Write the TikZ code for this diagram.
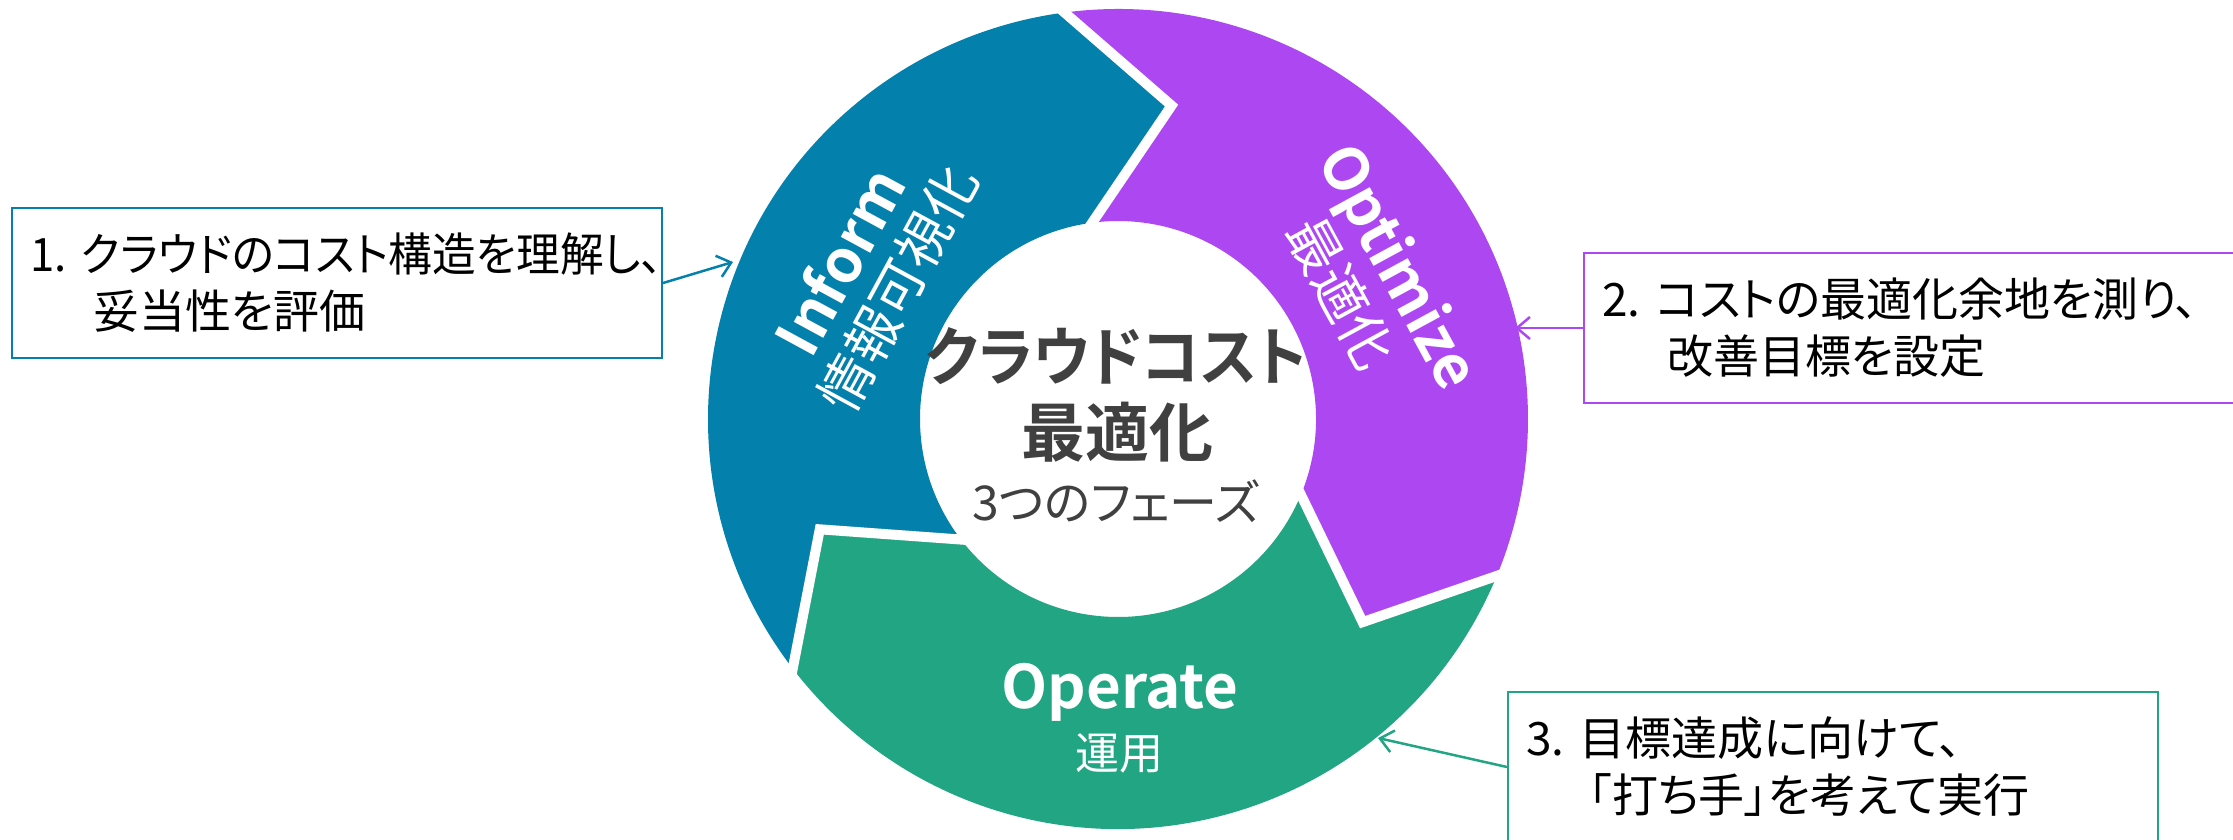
\documentclass[tikz,border=0pt]{standalone}
\usepackage{fontspec}
\newfontfamily\jp[RawFeature=+palt, BoldFont={Noto Sans CJK JP Bold}]{Noto Sans CJK JP}
\newfontfamily\jpb[RawFeature=+palt]{Noto Sans CJK JP Bold}
\usetikzlibrary{arrows.meta,calc}
\definecolor{cblue}{HTML}{0380AB}
\definecolor{cpurple}{HTML}{AD47F1}
\definecolor{cgreen}{HTML}{22A582}
\definecolor{ctext}{HTML}{404040}
\def\Ro{410}\def\Ri{198}\def\Rm{318}\def\Dt{17.2}
\newcommand\ringseg[3]{%
  \fill[#3] ($(C)+(#1:\Ro)$) arc[start angle=#1, end angle=#2, radius=\Ro]
    -- ($(C)+(#2-\Dt:\Rm)$) -- ($(C)+(#2:\Ri)$)
    arc[start angle=#2, end angle=#1, radius=\Ri]
    -- ($(C)+(#1-\Dt:\Rm)$) -- cycle;}
\newcommand\ringgap[1]{%
  \coordinate (gT) at ($(C)+(#1-\Dt:\Rm)$);
  \coordinate (gO) at ($(C)+(#1:\Ro)$);
  \coordinate (gI) at ($(C)+(#1:\Ri)$);
  \draw[white, line width=10pt, line join=miter]
    ($(gT)!1.15!(gO)$) -- (gT) -- ($(gT)!1.15!(gI)$);}
\begin{document}
\begin{tikzpicture}[x=1pt,y=1pt,
  box/.style={draw, line width=2pt, minimum width=650pt, minimum height=150pt,
    inner xsep=18pt, inner ysep=0pt, text width=614pt, align=left,
    font=\jp\fontsize{46pt}{57pt}\selectfont, text=black},
  conn/.style={line width=2.5pt, -{Straight Barb[length=13pt, width=22pt, line width=2.5pt]}},
  seglbl/.style={inner sep=0pt, anchor=base, text=white,
    font=\jpb\fontsize{60pt}{64pt}\selectfont},
  segsub/.style={inner sep=0pt, anchor=base, text=white,
    font=\jp\fontsize{54pt}{60pt}\selectfont},
  ctr/.style={inner sep=0pt, anchor=base, text=ctext}]
\useasboundingbox (0,0) rectangle (2233,-839);
\clip (0,0) rectangle (2233,-839);
\coordinate (C) at (1118,-419);
% ring
\ringseg{217.5}{97.5}{cblue}
\ringseg{97.5}{-22.5}{cpurple}
\ringseg{-22.5}{-142.5}{cgreen}
\ringgap{97.5}
\ringgap{-22.5}
\ringgap{-142.5}
% segment labels
\node[seglbl, rotate=61.5] (inform) at ($(C)+(150.3:297)$) {Inform};
\node[segsub, rotate=61.5] (informj) at ($(C)+(149:236)$) {情報可視化};
\node[seglbl, rotate=-61.5] (optimize) at ($(C)+(28.5:298)$) {Optimize};
\node[segsub, rotate=-61.5] (optimizej) at ($(C)+(29.5:236)$) {最適化};
\node[seglbl] (operate) at (1120,-708) {Operate};
\node[segsub, font=\jp\fontsize{44pt}{50pt}\selectfont] (operatej) at (1119,-769) {運用};
% centre
\node[ctr, font=\jpb\fontsize{64pt}{70pt}\selectfont] (t1) at (1116,-380) {\scalebox{0.93}[1]{クラウドコスト}};
\node[ctr, font=\jpb\fontsize{64pt}{70pt}\selectfont] (t2) at (1117,-456) {最適化};
\node[ctr, font=\jp\fontsize{48pt}{54pt}\selectfont] (t3) at (1116,-520) {3つのフェーズ};
% boxes
\node[box, draw=cblue] (box1) at (337,-283) {\scalebox{0.95}[1]{1.~クラウドのコスト構造を理解し、}\\\hspace*{63pt}妥当性を評価};
\node[box, draw=cpurple] (box2) at (1909,-328) {2.~コストの最適化余地を測り、\\\hspace*{65pt}改善目標を設定};
\node[box, draw=cgreen] (box3) at (1833,-767) {3.~目標達成に向けて、\\\hspace*{63pt}「打ち手」を考えて実行};
% connectors
\coordinate (a1) at (733,-262);
\coordinate (a2) at (1515,-328);
\coordinate (a3) at (1378,-738);
\draw[conn, cblue] (box1.east) -- (a1);
\draw[conn, cpurple] (box2.west) -- (a2);
\draw[conn, cgreen] (box3.west) -- (a3);
\end{tikzpicture}
\end{document}
